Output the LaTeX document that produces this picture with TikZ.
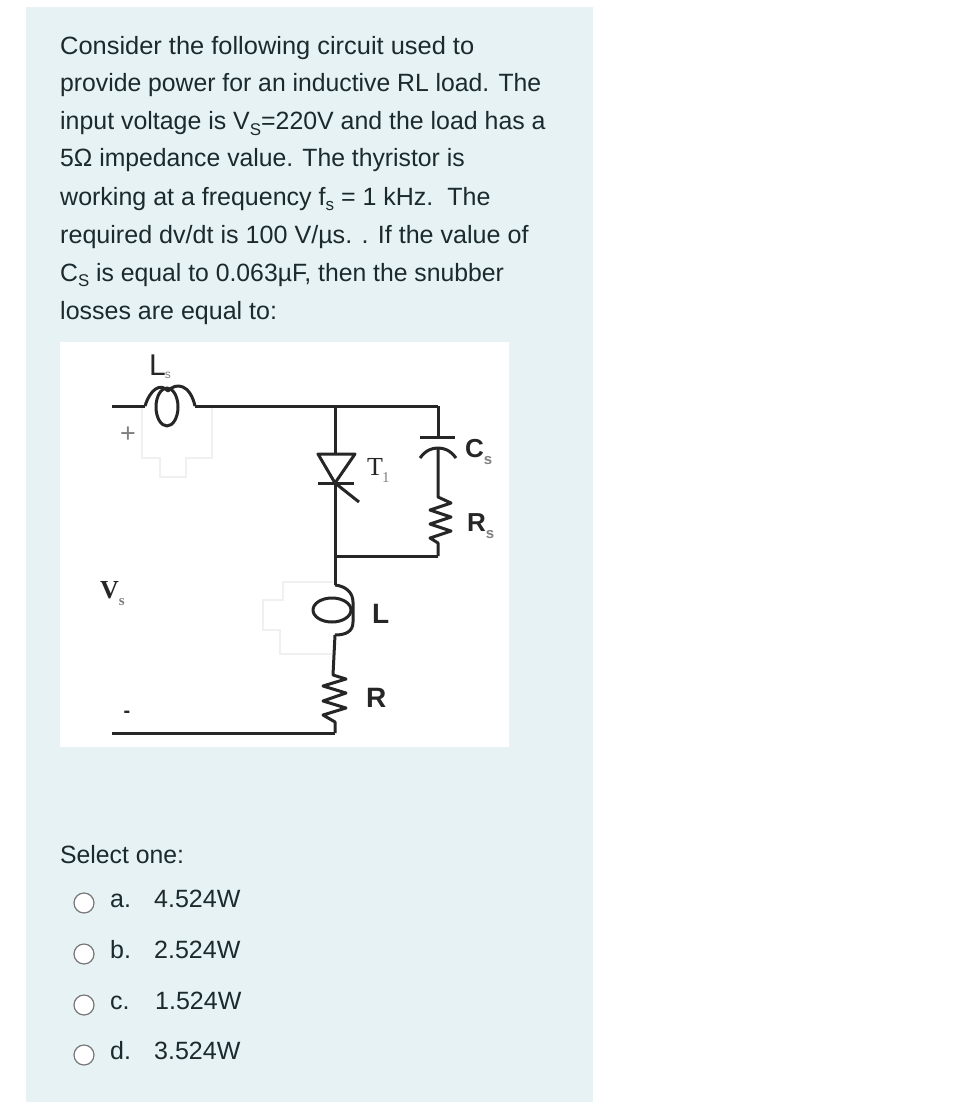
\documentclass[tikz,border=0pt]{standalone}
\usepackage{fontspec}
\setmainfont{Liberation Sans}
\newfontfamily\seriffont{Liberation Serif}
\usepackage{xcolor}
\definecolor{panelcol}{HTML}{E6F2F4}
\definecolor{inkcol}{HTML}{1B2A2E}
\definecolor{wirecol}{HTML}{262626}
\definecolor{ghostcol}{HTML}{F0F0F0}
\definecolor{radiocol}{HTML}{777777}
\newcommand{\lowsub}[1]{\raisebox{-0.22em}{\fontsize{17}{17}\selectfont #1}}
\newcommand{\wiresub}[1]{\raisebox{-0.3em}{\fontsize{15}{15}\selectfont\color{gray} #1}}
\tikzset{
    textline/.style={anchor=base west, inner sep=0pt, text=inkcol, font=\fontsize{25}{25}\selectfont},
    wire/.style={draw=wirecol, line width=3pt, line join=round},
    ghost/.style={draw=ghostcol, line width=1.5pt},
    radio/.style={circle, draw=radiocol, line width=1.2pt, fill=white, minimum size=20pt, inner sep=0pt},
    partlabel/.style={inner sep=0pt, text=wirecol, font=\fontsize{26}{26}\selectfont}
}

\begin{document}
\begin{tikzpicture}[x=1pt, y=-1pt]
    \useasboundingbox (0, 0) rectangle (976, 1102);
    % Panels
    \fill[panelcol] (26, 7) rectangle (593, 1102);
    \fill[white] (60, 342) rectangle (509, 747);

    % Question text
    \node[textline, xscale=1.017, transform shape] (line1) at (60, 54.5) {Consider the following circuit used to};
    \node[textline, xscale=0.99, transform shape] (line2) at (60, 92) {provide power for an inductive RL load. The};
    \node[textline, xscale=0.996, transform shape] (line3) at (60, 130) {input voltage is V\lowsub{S}=220V and the load has a};
    \node[textline, xscale=0.99, transform shape] (line4) at (60, 167) {5Ω impedance value. The thyristor is};
    \node[textline] (line5) at (60, 205) {working at a frequency f\lowsub{s} = 1 kHz.\ \ The};
    \node[textline, xscale=1.004, transform shape] (line6) at (60, 243) {required dv/dt is 100 V/µs. . If the value of};
    \node[textline, xscale=0.99, transform shape] (line7) at (60, 281) {C\lowsub{S} is equal to 0.063µF, then the snubber};
    \node[textline] (line8) at (60, 319) {losses are equal to:};

    % Ghost outlines
    \draw[ghost] (142, 406) -- (142, 458) -- (160, 458) -- (160, 477) -- (186, 477) -- (186, 458) -- (212, 458) -- (212, 406);
    \draw[ghost] (333, 582) -- (283, 582) -- (283, 600) -- (263, 600) -- (263, 630) -- (280, 630) -- (280, 654) -- (333, 654);

    % Junctions
    \coordinate (srcTop) at (112, 406);
    \coordinate (lsIn) at (145, 406);
    \coordinate (lsOut) at (195, 406);
    \coordinate (topMid) at (335, 406);
    \coordinate (topRight) at (438, 406);
    \coordinate (thyTop) at (335, 454);
    \coordinate (thyTip) at (335, 483);
    \coordinate (midLeft) at (335, 556);
    \coordinate (midRight) at (438, 556);
    \coordinate (lIn) at (335, 585);
    \coordinate (lOut) at (335, 635);
    \coordinate (rIn) at (333, 675);
    \coordinate (botRight) at (335, 733);
    \coordinate (srcBot) at (112, 733);

    % Source inductor
    \draw[wire] (srcTop) -- (lsIn);
    \draw[wire] (lsIn) .. controls (150, 390) and (160, 382) .. (168, 391)
        .. controls (176, 382) and (190, 384) .. (lsOut);
    \draw[wire] (167, 407) ellipse (11 and 19);
    \draw[wire] (lsOut) -- (topMid) -- (topRight);

    % Thyristor
    \draw[wire] (topMid) -- (thyTop);
    \draw[wire] (318, 454) -- (355, 454) -- (thyTip) -- cycle;
    \draw[wire] (318, 483) -- (354, 483);
    \draw[wire] (thyTip) -- (359, 502);
    \draw[wire] (thyTip) -- (midLeft);

    % Snubber
    \draw[wire] (topRight) -- (438, 437);
    \draw[wire] (420, 437) -- (455, 437);
    \draw[wire] (420, 458) .. controls (426, 450) and (432, 448) .. (438, 448) .. controls (444, 448) and (450, 450) .. (456, 458);
    \draw[wire] (438, 448) -- (438, 497) -- (451, 503) -- (430, 510) -- (451, 517) -- (430, 524) -- (451, 531) -- (430, 538) -- (438, 543) -- (midRight);
    \draw[wire] (midRight) -- (midLeft);

    % Load
    \draw[wire] (midLeft) -- (lIn);
    \draw[wire] (lIn) .. controls (345, 586) and (353, 592) .. (353, 602) -- (353, 622) .. controls (353, 632) and (345, 635) .. (lOut);
    \draw[wire] (332, 610) ellipse (19 and 12);
    \draw[wire] (lOut) -- (rIn) -- (346, 679) -- (323, 686) -- (346, 693) -- (323, 701) -- (346, 708) -- (323, 715) -- (335, 722) -- (botRight);
    \draw[wire] (botRight) -- (srcBot);

    % Part labels
    \node[partlabel, font=\fontsize{30}{30}\selectfont, anchor=base west] (lsLabel) at (149, 375) {L\kern-1pt\raisebox{-0.1em}{\fontsize{12}{12}\selectfont\color{gray} s}};
    \node[partlabel, font=\fontsize{27}{27}\selectfont, text=gray] (plusLabel) at (128, 435) {+};
    \node[partlabel, font=\seriffont\bfseries\fontsize{26}{26}\selectfont, anchor=base west] (vsLabel) at (100, 598) {V\wiresub{\bfseries s}};
    \node[partlabel, font=\bfseries\fontsize{20}{20}\selectfont] (minusLabel) at (127, 714) {-};
    \node[partlabel, font=\seriffont\fontsize{26}{26}\selectfont, anchor=base west] (t1Label) at (367, 475) {T\kern-1pt\wiresub{1}};
    \node[partlabel, font=\bfseries\fontsize{26}{26}\selectfont, anchor=base west] (csLabel) at (465, 457) {C\wiresub{s}};
    \node[partlabel, font=\bfseries\fontsize{26}{26}\selectfont, anchor=base west] (rsLabel) at (467, 531) {R\wiresub{s}};
    \node[partlabel, font=\bfseries\fontsize{28}{28}\selectfont, anchor=base west] (lLabel) at (372, 623) {L};
    \node[partlabel, font=\bfseries\fontsize{28}{28}\selectfont, anchor=base west] (rLabel) at (366, 707) {R};

    % Answers
    \node[textline, xscale=0.99, transform shape] (selectLabel) at (60, 863) {Select one:};
    \foreach \name/\ypos/\optname/\optval/\xval in {a/907/a./4.524W/154, b/958/b./2.524W/154, c/1009/c./1.524W/155, d/1059/d./3.524W/154} {
        \node[radio] (radio\name) at (84, \ypos - 4) {};
        \node[textline] (opt\name) at (110, \ypos) {\optname};
        \node[textline] (val\name) at (\xval, \ypos) {\optval};
    }
\end{tikzpicture}
\end{document}
